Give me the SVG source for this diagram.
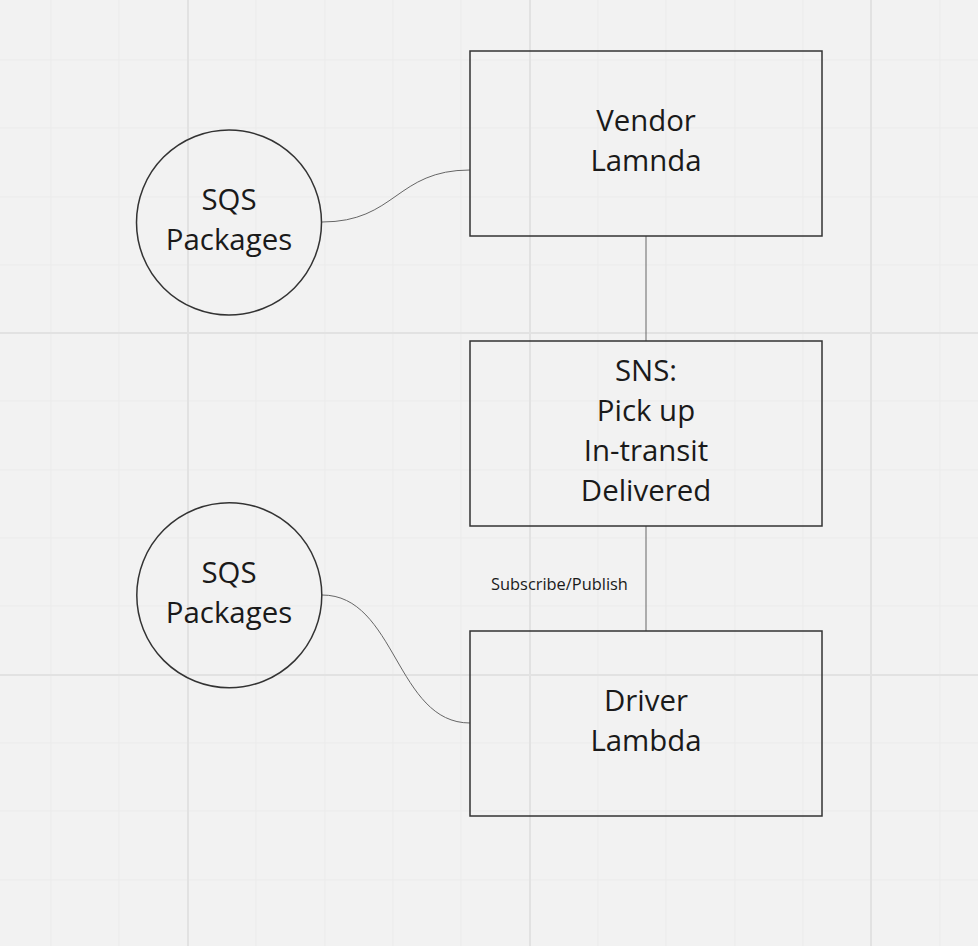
<svg xmlns="http://www.w3.org/2000/svg" width="978" height="946" viewBox="0 0 978 946">
<style>
.minor{stroke:#ebebeb;stroke-width:1}
.major{stroke:#e2e2e2;stroke-width:2}
.box{fill:#f2f2f2;fill-opacity:0;stroke:#333;stroke-width:1.5}
.node-text{font-family:"Open Sans","Noto Sans",sans-serif;font-size:29.4px;fill:#1a1a1a;text-anchor:middle}
.edge{fill:none;stroke:#666;stroke-width:1}
.label{font-family:"Open Sans","Noto Sans",sans-serif;font-size:16.4px;fill:#1a1a1a}
</style>
<rect width="978" height="946" fill="#f2f2f2"/>
<g id="grid">
<path class="minor" d="M51,0V946M119,0V946M256,0V946M325,0V946M393,0V946M461,0V946M598,0V946M666,0V946M735,0V946M803,0V946M940,0V946"/>
<path class="minor" d="M0,60H978M0,128H978M0,197H978M0,265H978M0,401H978M0,470H978M0,538H978M0,606H978M0,743H978M0,811H978M0,880H978"/>
<path class="major" d="M188,0V946M530,0V946M871,0V946M0,333H978M0,675H978"/>
</g>
<g id="connectors">
<path class="edge" d="M322,222 C396,222 396,170 470,170"/>
<path class="edge" d="M322,595 C396,595 396,723 470,723"/>
<path class="edge" d="M646,236 V341"/>
<path class="edge" d="M646,526 V631"/>
<text class="label" x="491" y="590">Subscribe/Publish</text>
</g>
<g id="vendor">
<rect class="box" x="470" y="51" width="352" height="185"/>
<text class="node-text" x="646" y="131">Vendor</text>
<text class="node-text" x="646" y="171">Lamnda</text>
</g>
<g id="sns">
<rect class="box" x="470" y="341" width="352" height="185"/>
<text class="node-text" x="646" y="381">SNS:</text>
<text class="node-text" x="646" y="421">Pick up</text>
<text class="node-text" x="646" y="461">In-transit</text>
<text class="node-text" x="646" y="501">Delivered</text>
</g>
<g id="driver">
<rect class="box" x="470" y="631" width="352" height="185"/>
<text class="node-text" x="646" y="711">Driver</text>
<text class="node-text" x="646" y="751">Lambda</text>
</g>
<g id="sqs-top">
<circle class="box" cx="229" cy="222.5" r="92.5"/>
<text class="node-text" x="229" y="210">SQS</text>
<text class="node-text" x="229" y="250">Packages</text>
</g>
<g id="sqs-bottom">
<circle class="box" cx="229.3" cy="595.2" r="92.5"/>
<text class="node-text" x="229" y="583">SQS</text>
<text class="node-text" x="229" y="623">Packages</text>
</g>
</svg>
